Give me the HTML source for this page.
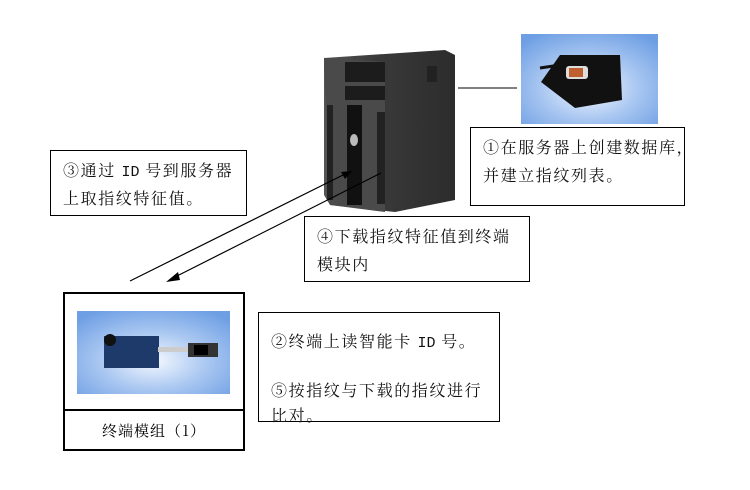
<!DOCTYPE html>
<html><head><meta charset="utf-8"><style>
html,body{margin:0;padding:0;background:#fff;}
body{width:750px;height:490px;position:relative;overflow:hidden;font-family:"Noto Serif CJK SC",serif;}
.b{position:absolute;border:1px solid #000;background:#fff;box-sizing:border-box;font-size:16px;letter-spacing:1.6px;line-height:28px;color:#111;padding:5px 0 0 12px;white-space:nowrap;}
.b div.l{height:28px;line-height:28px;overflow:visible;}
.m{font-family:"Liberation Mono",monospace;font-size:15px;letter-spacing:0;line-height:0;}
</style></head><body>
<svg width="750" height="490" style="position:absolute;left:0;top:0">
<defs>
<radialGradient id="bg" cx="0.5" cy="0.6" r="0.7"><stop offset="0" stop-color="#f4f8ff"/><stop offset="0.5" stop-color="#a9c7f1"/><stop offset="1" stop-color="#6e9fe4"/></radialGradient>
<linearGradient id="sv" x1="0" x2="1"><stop offset="0" stop-color="#555"/><stop offset="0.4" stop-color="#3a3a3a"/><stop offset="1" stop-color="#2c2c2c"/></linearGradient>
</defs>
<polygon points="324,58 445,50 455,55 455,200 395,212 330,205 324,195" fill="url(#sv)"/>
<polygon points="324,58 385,62 385,212 330,205" fill="#4a4a4a"/>
<rect x="345" y="62" width="40" height="20" fill="#1c1c1c"/>
<rect x="345" y="86" width="40" height="14" fill="#1c1c1c"/>
<rect x="347" y="105" width="15" height="100" fill="#111"/>
<rect x="377" y="112" width="8" height="92" fill="#222"/>
<rect x="327" y="105" width="6" height="95" fill="#222"/>
<ellipse cx="354" cy="140" rx="4" ry="6" fill="#bbb"/>
<rect x="427" y="66" width="10" height="16" fill="#222"/>
<line x1="458" y1="88" x2="517" y2="88" stroke="#000" stroke-width="1"/>
<rect x="521" y="34" width="137" height="90" fill="url(#bg)"/>
<polygon points="560,55 620,55 622,100 575,108 541,82" fill="#111"/>
<rect x="566" y="66" width="22" height="13" rx="3" fill="#ddd"/>
<rect x="569" y="68" width="14" height="9" fill="#c06030"/>
<line x1="540" y1="68" x2="560" y2="65" stroke="#111" stroke-width="3"/>
<rect x="64" y="293" width="180" height="157" fill="none" stroke="#000" stroke-width="2"/>
<line x1="64" y1="410" x2="244" y2="410" stroke="#000" stroke-width="2"/>
<rect x="77" y="311" width="153" height="83" fill="url(#bg)"/>
<rect x="104" y="336" width="55" height="32" fill="#1d3a6a"/>
<circle cx="110" cy="340" r="6" fill="#111"/>
<rect x="158" y="347" width="30" height="5" fill="#ccc"/>
<rect x="188" y="343" width="30" height="14" fill="#333"/>
<rect x="194" y="345" width="14" height="10" fill="#000"/>
<line x1="130" y1="281" x2="345" y2="174" stroke="#000" stroke-width="1.2"/>
<polygon points="352,171 341,172 345,179" fill="#000"/>
<line x1="381" y1="173" x2="175" y2="277" stroke="#000" stroke-width="1.2"/>
<polygon points="166,282 178,272 180,280" fill="#000"/>
</svg>
<div class="b" style="left:470px;top:127px;width:215px;height:79px;"><div class="l">①在服务器上创建数据库，</div><div class="l">并建立指纹列表。</div></div>
<div class="b" style="left:50px;top:150px;width:197px;height:66px;"><div class="l">③通过 <span class="m">ID</span> 号到服务器</div><div class="l">上取指纹特征值。</div></div>
<div class="b" style="left:304px;top:216px;width:226px;height:66px;"><div class="l">④下载指纹特征值到终端</div><div class="l">模块内</div></div>
<div class="b" style="left:258px;top:312px;width:242px;height:110px;padding-top:15px;"><div class="l" style="height:25px;line-height:25px">②终端上读智能卡 <span class="m">ID</span> 号。</div><div style="height:24px"></div><div class="l" style="height:25px;line-height:25px">⑤按指纹与下载的指纹进行</div><div class="l" style="height:25px;line-height:25px">比对。</div></div>
<div style="position:absolute;left:64px;top:418px;width:180px;text-align:center;font-size:15px;line-height:25px;letter-spacing:1px;">终端模组（1）</div>
</body></html>
